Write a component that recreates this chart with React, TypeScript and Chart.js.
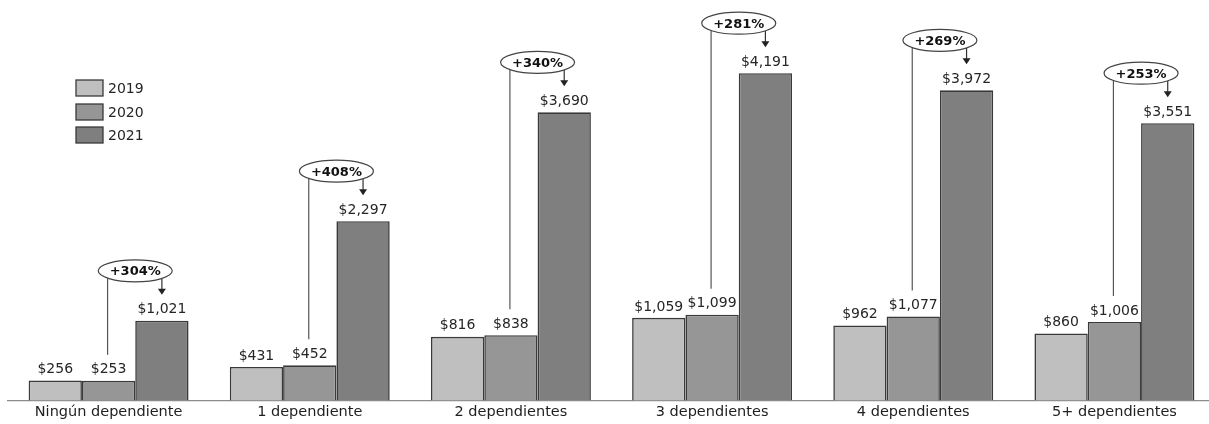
import React, { useEffect, useRef } from "react";
import { Chart, registerables } from "chart.js";

Chart.register(...registerables);

const categories = [
  "Ningún dependiente",
  "1 dependiente",
  "2 dependientes",
  "3 dependientes",
  "4 dependientes",
  "5+ dependientes",
];
const seriesNames = ["2019", "2020", "2021"];
const values2019 = [256, 431, 816, 1059, 962, 860];
const values2020 = [253, 452, 838, 1099, 1077, 1006];
const values2021 = [1021, 2297, 3690, 4191, 3972, 3551];
const changeLabels = ["+304%", "+408%", "+340%", "+281%", "+269%", "+253%"];
const colors = ["#bfbfbf", "#969696", "#7f7f7f"];
const borderColor = "#3a3a3a";
const FONT = "'DejaVu Sans', sans-serif";

const fmt = (v: number) => "$" + v.toLocaleString("en-US");

const overlayPlugin = {
  id: "overlay",
  afterDatasetsDraw(chart: any) {
    const ctx = chart.ctx;
    ctx.save();
    // value labels
    ctx.font = `14px ${FONT}`;
    ctx.fillStyle = "#262626";
    ctx.textAlign = "center";
    ctx.textBaseline = "bottom";
    chart.data.datasets.forEach((ds: any, di: number) => {
      const meta = chart.getDatasetMeta(di);
      meta.data.forEach((bar: any, i: number) => {
        ctx.fillText(fmt(ds.data[i]), bar.x, bar.y - 4);
      });
    });
    // change annotations
    const m20 = chart.getDatasetMeta(1);
    const m21 = chart.getDatasetMeta(2);
    categories.forEach((_, i) => {
      const b20 = m20.data[i];
      const b21 = m21.data[i];
      const cx = (b20.x + b21.x) / 2;
      const cy = b21.y - 50;
      const rx = 37;
      const ry = 11;
      ctx.strokeStyle = "#555555";
      ctx.lineWidth = 1.2;
      // left connector line down to 2020 label
      const lx = b20.x - 1;
      const ldy = ry * Math.sqrt(Math.max(0, 1 - Math.pow((lx - cx) / rx, 2)));
      ctx.beginPath();
      ctx.moveTo(lx, cy + ldy);
      ctx.lineTo(lx, b20.y - 26);
      ctx.stroke();
      // arrow down to 2021 label
      const ax = b21.x;
      const ady = ry * Math.sqrt(Math.max(0, 1 - Math.pow((ax - cx) / rx, 2)));
      const tip = b21.y - 26;
      ctx.strokeStyle = "#333333";
      ctx.beginPath();
      ctx.moveTo(ax, cy + ady);
      ctx.lineTo(ax, tip - 5);
      ctx.stroke();
      ctx.fillStyle = "#222222";
      ctx.beginPath();
      ctx.moveTo(ax - 4, tip - 6);
      ctx.lineTo(ax + 4, tip - 6);
      ctx.lineTo(ax, tip);
      ctx.closePath();
      ctx.fill();
      // ellipse
      ctx.beginPath();
      ctx.ellipse(cx, cy, rx, ry, 0, 0, Math.PI * 2);
      ctx.fillStyle = "#ffffff";
      ctx.fill();
      ctx.strokeStyle = "#444444";
      ctx.lineWidth = 1.2;
      ctx.stroke();
      ctx.fillStyle = "#111111";
      ctx.font = `bold 13px ${FONT}`;
      ctx.textAlign = "center";
      ctx.textBaseline = "middle";
      ctx.fillText(changeLabels[i], cx, cy + 1);
    });
    // legend
    const lx0 = 76;
    const rows = [88, 112, 135];
    seriesNames.forEach((name, k) => {
      const y = rows[k];
      ctx.fillStyle = colors[k];
      ctx.fillRect(lx0, y - 8, 27, 16);
      ctx.strokeStyle = borderColor;
      ctx.lineWidth = 1.3;
      ctx.strokeRect(lx0, y - 8, 27, 16);
      ctx.fillStyle = "#262626";
      ctx.font = `14px ${FONT}`;
      ctx.textAlign = "left";
      ctx.textBaseline = "middle";
      ctx.fillText(name, lx0 + 32, y + 1);
    });
    ctx.restore();
  },
};

export default function App() {
  const ref = useRef<HTMLCanvasElement>(null);
  useEffect(() => {
    if (!ref.current) return;
    const chart = new Chart(ref.current, {
      type: "bar",
      data: {
        labels: categories,
        datasets: [values2019, values2020, values2021].map((d, k) => ({
          label: seriesNames[k],
          data: d,
          backgroundColor: colors[k],
          borderColor: borderColor,
          borderWidth: 1.6,
          categoryPercentage: 0.795,
          barPercentage: 1,
        })),
      },
      options: {
        responsive: false,
        animation: false,
        layout: { padding: { left: 8, right: 0, top: 10, bottom: 0 } },
        plugins: { legend: { display: false }, tooltip: { enabled: false } },
        scales: {
          x: {
            grid: { display: false, drawTicks: false },
            border: { display: true, color: "#8c8c8c", width: 1.2 },
            ticks: { color: "#1f1f1f", font: { family: FONT, size: 14.5 }, padding: 3 },
          },
          y: { display: false, min: 0, max: 5000 },
        },
      },
      plugins: [overlayPlugin],
    });
    return () => chart.destroy();
  }, []);
  return (
    <div
      style={{
        position: "fixed",
        left: 0,
        top: 0,
        width: 1209,
        height: 424,
        overflow: "hidden",
        background: "#fff",
      }}
    >
      <canvas ref={ref} width={1215} height={424} style={{ display: "block" }} />
    </div>
  );
}
